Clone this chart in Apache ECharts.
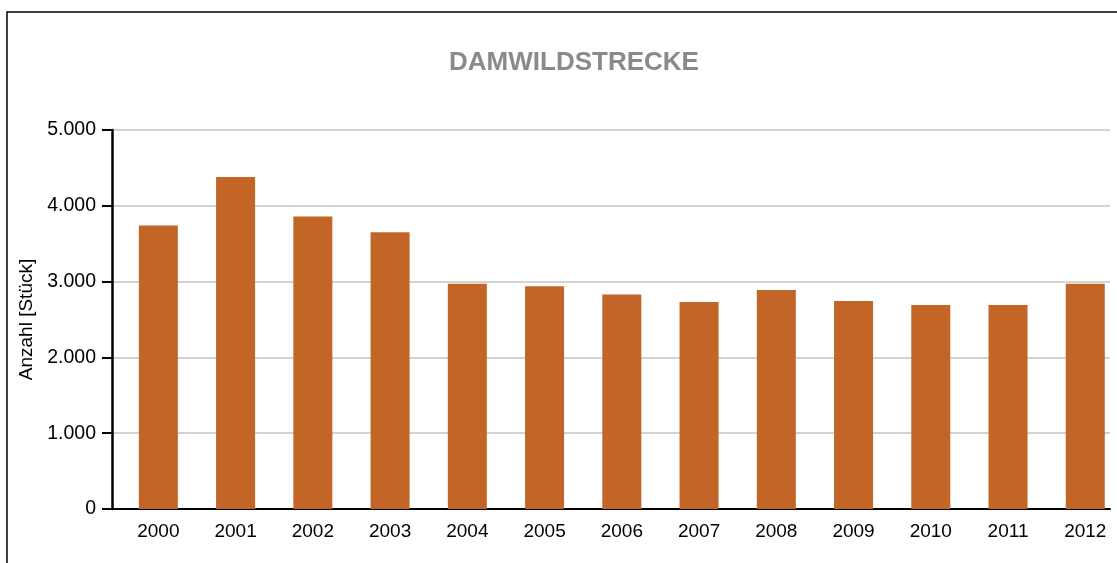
<!DOCTYPE html>
<html>
<head>
<meta charset="utf-8">
<style>
  html, body { margin: 0; padding: 0; background: #fff; }
  #chart { width: 1117px; height: 563px; }
</style>
<script src="https://cdn.jsdelivr.net/npm/echarts@6/dist/echarts.min.js"></script>
</head>
<body>
<div id="chart"></div>
<script>
const years = ['2000', '2001', '2002', '2003', '2004', '2005', '2006',
  '2007', '2008', '2009', '2010', '2011', '2012']
const strecke = [3740, 4380, 3860, 3650, 2970, 2940, 2830, 2730, 2890, 2745, 2690, 2690, 2970]
const yTicks = [0, 1000, 2000, 3000, 4000, 5000]

const font = 'Liberation Sans, Arial, sans-serif'
const dots = v => String(v).replace(/\B(?=(\d{3})+(?!\d))/g, '.')

const myChart = echarts.init(document.getElementById('chart'), null, { renderer: 'canvas' })

myChart.setOption({
  animation: false,
  backgroundColor: '#fff',
  graphic: [{
    type: 'rect',
    shape: { x: 7, y: 12, width: 1300, height: 700 },
    style: { fill: 'none', stroke: '#000', lineWidth: 1.5 },
    silent: true
  }],
  title: {
    text: 'DAMWILDSTRECKE',
    left: 569,
    top: 45,
    textAlign: 'center',
    textStyle: { color: '#8a8a8a', fontSize: 26, fontWeight: 'bold', fontFamily: font }
  },
  grid: { left: 112, top: 130, right: 7, bottom: 54, containLabel: false },
  xAxis: {
    type: 'value',
    min: -0.6,
    max: 12.32,
    splitLine: { show: false },
    axisTick: { show: false },
    axisLine: { show: true, onZero: false, lineStyle: { color: '#000', width: 2 } },
    axisLabel: {
      customValues: years.map((y, i) => i),
      formatter: v => years[v],
      margin: 13,
      color: '#000',
      fontSize: 19,
      fontFamily: font
    }
  },
  yAxis: {
    type: 'value',
    min: 0,
    max: 5000,
    interval: 1000,
    name: 'Anzahl [Stück]',
    nameLocation: 'middle',
    nameRotate: 90,
    nameGap: 74,
    nameTextStyle: { color: '#000', fontSize: 19, fontFamily: font },
    axisLine: { show: true, onZero: false, lineStyle: { color: '#000', width: 2.5 } },
    axisTick: { show: true, length: 10, lineStyle: { color: '#000', width: 2 } },
    axisLabel: {
      formatter: v => yTicks.includes(v) ? dots(v) : '',
      margin: 16,
      color: '#000',
      fontSize: 19.5,
      fontFamily: font
    },
    splitLine: { show: true, lineStyle: { color: '#c4c4c4', width: 1.5 } }
  },
  series: [{
    type: 'bar',
    name: 'Damwild',
    data: strecke.map((v, i) => [i, v]),
    barWidth: 39,
    itemStyle: { color: '#c26526' }
  }]
})
</script>
</body>
</html>
